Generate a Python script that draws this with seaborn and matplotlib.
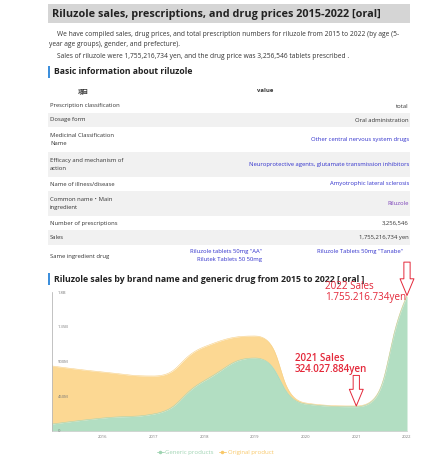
import numpy as np
import matplotlib
matplotlib.use("Agg")
import matplotlib.pyplot as plt
from matplotlib.lines import Line2D
from matplotlib.patches import Rectangle
import seaborn as sns

# Chart data (yen)
years = [2015, 2016, 2017, 2018, 2019, 2020, 2021, 2022]
generic = [0.090e9, 0.168e9, 0.220e9, 0.650e9, 0.945e9, 0.350e9, 0.315e9, 1.745e9]
original = [0.752e9, 0.596e9, 0.492e9, 0.440e9, 0.285e9, 0.013e9, 0.009e9, 0.0102e9]
series_names = ["Generic products", "Original product"]
y_ticks = [0, 450e6, 900e6, 1.35e9, 1.8e9]
y_tick_labels = ["0", "450M", "900M", "1.35B", "1.8B"]
x_tick_years = [2016, 2017, 2018, 2019, 2020, 2021, 2022]

# Page text
title = "Riluzole sales, prescriptions, and drug prices 2015-2022 [oral]"
intro = [
    "We have compiled sales, drug prices, and total prescription numbers for riluzole from 2015 to 2022 (by age (5-",
    "year age groups), gender, and prefecture).",
    "Sales of riluzole were 1,755,216,734 yen, and the drug price was 3,256,546 tablets prescribed .",
]
table_labels = [
    "Prescription classification", "Dosage form", "Medicinal Classification\nName",
    "Efficacy and mechanism of\naction", "Name of illness/disease", "Common name・Main\ningredient",
    "Number of prescriptions", "Sales", "Same ingredient drug",
]
table_values = [
    "total", "Oral administration", "Other central nervous system drugs",
    "Neuroprotective agents, glutamate transmission inhibitors", "Amyotrophic lateral sclerosis",
    "Riluzole", "3,256,546", "1,755,216,734 yen", "",
]
same_drugs = ['Riluzole tablets 50mg "AA"', "Rilutek Tablets 50 50mg", 'Riluzole Tablets 50mg "Tanabe"']

W, H = 441, 459
GREEN = "#b2dec2"
ORANGE = "#fcd893"
RED = "#e4283a"
LINK = "#3030cc"
TEXT = "#333333"

sns.set_theme(style="white")
plt.rcParams["font.family"] = ["Open Sans", "Noto Sans CJK JP", "DejaVu Sans"]

fig = plt.figure(figsize=(W / 100, H / 100), dpi=100)
fig.patch.set_facecolor("white")


def fx(x):
    return x / W


def fy(y):
    return 1 - y / H


def ftext(x, y, s, **kw):
    kw.setdefault("va", "center")
    kw.setdefault("color", TEXT)
    fig.text(fx(x), fy(y), s, **kw)


def band(x0, y0, x1, y1, color):
    fig.patches.append(Rectangle((fx(x0), fy(y1)), fx(x1) - fx(x0), fy(y0) - fy(y1),
                                 transform=fig.transFigure, color=color, zorder=0, lw=0))


# Title bar
band(48, 4, 410, 23, "#d5d5d5")
ftext(52, 14, title, fontsize=7.8, fontweight="bold", color="#222222")

ftext(57, 35, intro[0], fontsize=4.8)
ftext(49, 45, intro[1], fontsize=4.8)
ftext(57, 56, intro[2], fontsize=4.8)

# Section heading
band(48, 66, 50, 78, "#3d8fdc")
ftext(54, 72, "Basic information about riluzole", fontsize=6.2, fontweight="bold", color="#222222")

# Table
ftext(83, 91, "項目", fontsize=4.0, fontweight="bold", ha="center",
      family=["Noto Sans CJK JP", "DejaVu Sans"])
ftext(265, 91, "value", fontsize=4.2, fontweight="bold", ha="center")
rows = [(99, 113), (113, 127), (127, 152), (152, 177), (177, 191), (191, 216), (216, 230), (230, 245), (245, 268)]
value_colors = [TEXT, TEXT, LINK, LINK, LINK, "#7a40b8", TEXT, TEXT, TEXT]
for i, (r0, r1) in enumerate(rows):
    if i % 2 == 1:
        band(48, r0, 410, r1, "#f1f1f1")
    yc = (r0 + r1) / 2
    ftext(50, yc, table_labels[i], fontsize=4.2, linespacing=1.9)
    if table_values[i]:
        ftext(409, yc, table_values[i], fontsize=4.2, ha="right", color=value_colors[i])
ftext(262, 251, same_drugs[0], fontsize=4.2, ha="right", color=LINK)
ftext(262, 260, same_drugs[1], fontsize=4.2, ha="right", color=LINK)
ftext(403, 251, same_drugs[2], fontsize=4.2, ha="right", color=LINK)

# Chart heading
band(48, 273, 50, 285, "#3d8fdc")
ftext(54, 279, "Riluzole sales by brand name and generic drug from 2015 to 2022 [ oral ]",
      fontsize=6.3, fontweight="bold", color="#222222")

# Chart axes
ax_l, ax_r, ax_b, ax_t = 52, 407, 431, 292
ax = fig.add_axes([fx(ax_l), fy(ax_b), fx(ax_r) - fx(ax_l), fy(ax_t) - fy(ax_b)])
ax.set_xlim(years[0], years[-1])
ax.set_ylim(0, y_ticks[-1])


def smooth_curve(xs, ys, smooth=0.5, n=60):
    # echarts-like bezier smoothing, computed in pixel space of the axes
    sx = (ax_r - ax_l) / (xs[-1] - xs[0])
    sy = (ax_b - ax_t) / y_ticks[-1]
    px = [(x - xs[0]) * sx for x in xs]
    py = [y * sy for y in ys]
    out_x, out_y = [], []
    cp0 = (px[0], py[0])
    for i in range(1, len(px)):
        x, y = px[i], py[i]
        prx, pry = px[i - 1], py[i - 1]
        if i + 1 < len(px):
            nx, ny = px[i + 1], py[i + 1]
            vx, vy = nx - prx, ny - pry
            d0 = np.hypot(x - prx, y - pry)
            d1 = np.hypot(nx - x, ny - y)
            r = d1 / (d0 + d1)
            ncx = x + vx * smooth * r
            ncy = y + vy * smooth * r
            ncx = min(ncx, max(nx, x)); ncx = max(ncx, min(nx, x))
            ncy = min(ncy, max(ny, y)); ncy = max(ncy, min(ny, y))
            vx, vy = ncx - x, ncy - y
            c1x = x - vx * d0 / d1
            c1y = y - vy * d0 / d1
            c1x = min(c1x, max(prx, x)); c1x = max(c1x, min(prx, x))
            c1y = min(c1y, max(pry, y)); c1y = max(c1y, min(pry, y))
            vx, vy = x - c1x, y - c1y
            ncx = x + vx * d1 / d0
            ncy = y + vy * d1 / d0
        else:
            c1x = x - (x - prx) * smooth
            c1y = y - (y - pry) * smooth
            ncx, ncy = x, y
        t = np.linspace(0, 1, n)
        bx = (1 - t) ** 3 * prx + 3 * (1 - t) ** 2 * t * cp0[0] + 3 * (1 - t) * t ** 2 * c1x + t ** 3 * x
        by = (1 - t) ** 3 * pry + 3 * (1 - t) ** 2 * t * cp0[1] + 3 * (1 - t) * t ** 2 * c1y + t ** 3 * y
        out_x.extend(bx)
        out_y.extend(by)
        cp0 = (ncx, ncy)
    out_x = np.array(out_x) / sx + xs[0]
    out_y = np.array(out_y) / sy
    return out_x, out_y


total = [g + o for g, o in zip(generic, original)]
gx, gy = smooth_curve(years, generic)
tx, ty = smooth_curve(years, total)
grid = np.linspace(years[0], years[-1], 800)
g_s = np.interp(grid, gx, gy)
t_s = np.maximum(np.interp(grid, tx, ty), g_s)

ax.fill_between(grid, g_s, t_s, color=ORANGE, lw=0)
ax.fill_between(grid, 0, g_s, color=GREEN, lw=0)
sns.lineplot(x=grid, y=t_s, ax=ax, color="#f7cf83", lw=0.4)
sns.lineplot(x=grid, y=g_s, ax=ax, color="#a5d6b7", lw=0.4)

ax.set_axisbelow(False)
ax.set_xticks(x_tick_years)
ax.set_xticklabels([str(y) for y in x_tick_years])
ax.set_yticks(y_ticks)
ax.set_yticklabels(y_tick_labels)
ax.tick_params(axis="x", length=0, labelsize=3.0, labelcolor="#777777", pad=3)
ax.tick_params(axis="y", length=2, width=0.4, color="#999999", labelsize=3.0,
               labelcolor="#777777", pad=-6)
for lab in ax.get_yticklabels():
    lab.set_horizontalalignment("left")
sns.despine(ax=ax, top=True, right=True)
ax.spines["left"].set_color("#aaaaaa")
ax.spines["left"].set_linewidth(0.5)
ax.spines["bottom"].set_color("#cccccc")
ax.spines["bottom"].set_linewidth(0.5)
ax.grid(False)
ax.set_facecolor("none")

# Annotation arrows
arrow_kw = dict(arrowstyle="simple,head_length=1.2,head_width=1.0,tail_width=0.45",
                fc="white", ec=RED, lw=0.7, shrinkA=0, shrinkB=0, mutation_scale=10)
ax.annotate("", xy=(years[-1], total[-1]), xytext=(0, 24), textcoords="offset points",
            arrowprops=arrow_kw, annotation_clip=False)
ax.annotate("", xy=(years[-2], total[-2]), xytext=(0, 22), textcoords="offset points",
            arrowprops=arrow_kw, annotation_clip=False)
ftext(325, 292, "2022 Sales\n1.755.216.734yen", fontsize=7.1, color=RED, linespacing=1.05)
ftext(295, 364, "2021 Sales\n324.027.884yen", fontsize=7.1, color=RED, linespacing=1.05,
      fontweight="semibold")

# Legend
handles = [Line2D([0], [0], color=c, marker="o", markersize=1.5, lw=0.6)
           for c in ["#9fd4b2", "#f9c868"]]
leg = fig.legend(handles, series_names, loc="center", bbox_to_anchor=(fx(215), fy(452)),
                 ncol=2, frameon=False, fontsize=4.3, handlelength=1.2, handletextpad=0.3,
                 columnspacing=0.8)
for txt, c in zip(leg.get_texts(), ["#9fd4b2", "#f9c868"]):
    txt.set_color(c)

fig.savefig("out.png", dpi=100, facecolor="white")
